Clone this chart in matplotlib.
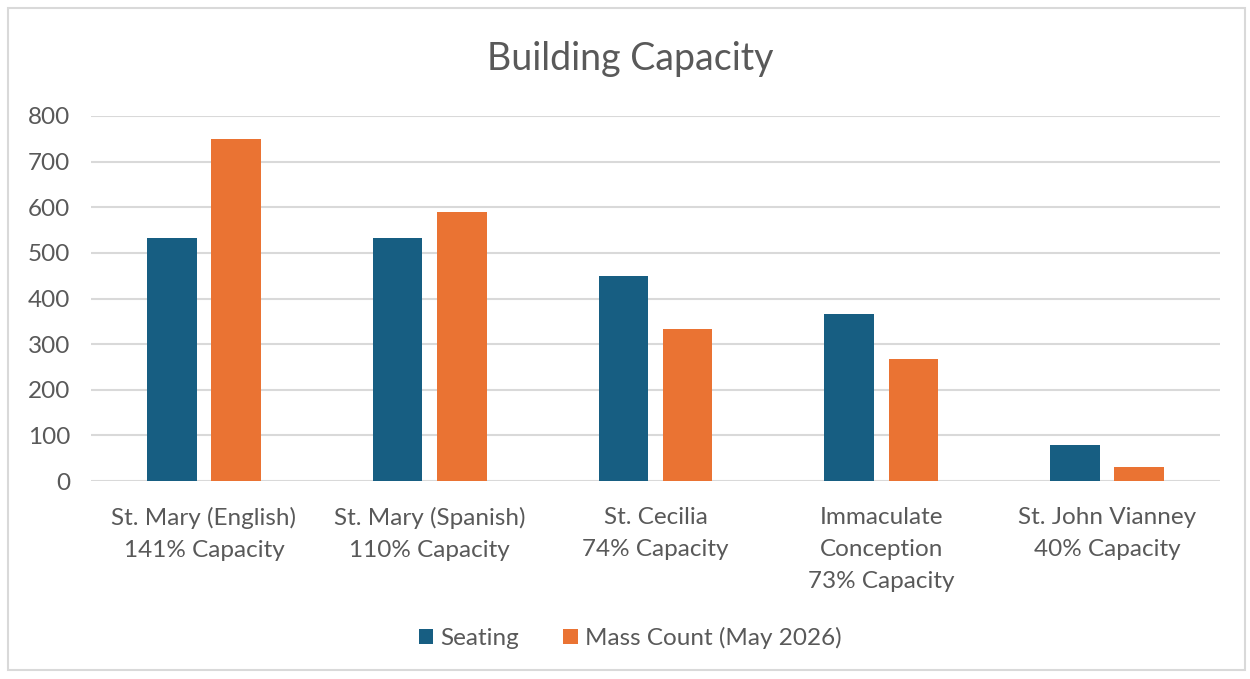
import matplotlib.pyplot as plt
import numpy as np
from matplotlib.patches import Rectangle

plt.rcParams['font.family'] = ['Lato', 'DejaVu Sans']

# Data
categories = ['St. Mary (English)\n141% Capacity',
              'St. Mary (Spanish)\n110% Capacity',
              'St. Cecilia\n74% Capacity',
              'Immaculate\nConception\n73% Capacity',
              'St. John Vianney\n40% Capacity']
seating = [533, 533, 450, 365, 80]
mass_count = [750, 590, 333, 268, 31]
series_names = ['Seating', 'Mass Count (May 2026)']

blue = '#175E82'
orange = '#EA7333'
grey = '#595959'

fig = plt.figure(figsize=(12.5, 6.79), dpi=100)
ax = fig.add_axes([91 / 1250, 1 - 481 / 679, (1220 - 91) / 1250, (481 - 116) / 679])

x = np.arange(len(categories))
w = 0.22
off = 0.142
ax.bar(x - off, seating, w, color=blue, label=series_names[0], zorder=3)
ax.bar(x + off, mass_count, w, color=orange, label=series_names[1], zorder=3)

ax.set_xlim(-0.5, len(categories) - 0.5)
ax.set_ylim(0, 800)
ax.set_yticks(range(0, 801, 100))
ax.grid(axis='y', color='#D9D9D9', linewidth=1.5, zorder=0)
ax.set_xticks(x)
ax.set_xticklabels(categories, fontsize=17.5, color=grey, linespacing=1.66)
ax.tick_params(axis='y', labelsize=17.5, labelcolor=grey, length=0, pad=15)
ax.tick_params(axis='x', length=0, pad=18.5)
for s in ax.spines.values():
    s.set_visible(False)

fig.text(0.504, 1 - 59 / 679, 'Building Capacity', ha='center', va='center',
         fontsize=27, color=grey)

fig.legend(loc='center', bbox_to_anchor=(0.504, 1 - 638 / 679), ncol=2,
           frameon=False, fontsize=17.5, labelcolor=grey, handlelength=0.6,
           handleheight=0.6, handletextpad=0.3, columnspacing=1.8)

fig.patches.append(Rectangle((8 / 1250, 1 - 670 / 679), 1237 / 1250, 662 / 679,
                             transform=fig.transFigure, fill=False,
                             edgecolor='#D9D9D9', linewidth=1.5))

fig.savefig('out.png', dpi=100)
